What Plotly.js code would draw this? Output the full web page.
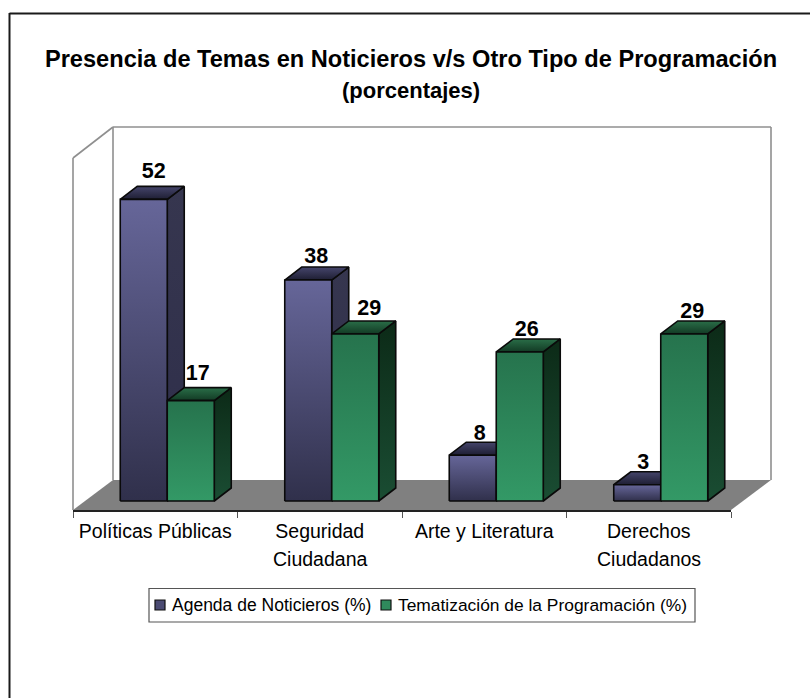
<!DOCTYPE html>
<html>
<head>
<meta charset="utf-8">
<script src="https://cdn.plot.ly/plotly-3.0.1.min.js"></script>
<style>html,body{margin:0;padding:0;background:#fff;overflow:hidden}#chart{width:810px;height:698px}</style>
</head>
<body>
<div id="chart"></div>
<script>
const categoriesLine1 = ['Políticas Públicas', 'Seguridad', 'Arte y Literatura', 'Derechos'];
const categoriesLine2 = ['', 'Ciudadana', '', 'Ciudadanos'];
const seriesNames = ['Agenda de Noticieros (%)', 'Tematización de la Programación (%)'];
const agenda = [52, 38.1, 7.9, 2.8];
const tematizacion = [17.3, 28.8, 25.7, 28.8];
const titleLine1 = 'Presencia de Temas en Noticieros v/s Otro Tipo de Programación';
const titleLine2 = '(porcentajes)';

const W = 810, H = 698;
const plot = {l: 73, t: 158, w: 658, h: 352};
const pxPerCat = plot.w / 4, pxPerUnit = 5.8;
const zeroPx = 501;
const px = p => (p - plot.l) / plot.w;
const py = p => (plot.t + plot.h - p) / plot.h;

const barW = 47 / pxPerCat, depthX = 17 / pxPerCat, depthY = 13 / pxPerUnit, shift = 12 / pxPerCat;
const styles = [
  {front: ['#666699', '#30304b'], side: ['#36364f', '#2e2e4a'], top: ['#45456b', '#1e1e33'], swatch: '#4b4b73', off: shift - barW, nudgeX: [2, 0, -1, -2], nudgeY: [3, -1, -3, -3]},
  {front: ['#26734d', '#339966'], side: ['#0c2a17', '#1a4d33'], top: ['#2a6e48', '#123a24'], swatch: '#2f8a5c', off: shift, nudgeX: [-1, 6, -1, 0], nudgeY: [2, 1, -2, -2]}
];
const outline = {color: '#0a0a0a', width: 1.6};

function face(xs, ys, colors) {
  return {
    type: 'scatter', mode: 'lines', x: xs, y: ys, fill: 'toself',
    fillgradient: {type: 'vertical', colorscale: [[0, colors[1]], [1, colors[0]]]},
    line: outline, showlegend: false, hoverinfo: 'skip'
  };
}

const traces = [];
const allValues = [agenda, tematizacion];
allValues.forEach((vals, s) => {
  traces.push({
    type: 'bar', name: seriesNames[s], x: vals.map((_, i) => i), y: vals, width: barW,
    offset: styles[s].off, marker: {color: styles[s].swatch, line: {width: 0}},
    showlegend: false, hoverinfo: 'name+y'
  });
});
allValues.forEach((vals, s) => {
  vals.forEach((v, i) => {
    const st = styles[s], a = i + st.off, b = a + barW;
    traces.push(face([b, b + depthX, b + depthX, b, b], [0, depthY, v + depthY, v, 0], st.side));
    traces.push(face([a, b, b + depthX, a + depthX, a], [v, v, v + depthY, v + depthY, v], st.top));
    traces.push(face([a, b, b, a, a], [0, 0, v, v, 0], st.front));
  });
});
allValues.forEach((vals, s) => {
  const st = styles[s];
  traces.push({
    type: 'scatter', mode: 'text',
    x: vals.map((_, i) => i + st.off + barW / 2 + (8 + st.nudgeX[i]) / pxPerCat),
    y: vals.map((v, i) => v + depthY + st.nudgeY[i] / pxPerUnit), text: vals.map(v => String(Math.round(v))), textposition: 'top center',
    textfont: {family: 'Liberation Sans, Arial, sans-serif', size: 21.5, color: '#000'},
    texttemplate: '<b>%{text}</b>', showlegend: false, hoverinfo: 'skip', cliponaxis: false
  });
});

const gray = '#8f8f8f';
const line = (x0, y0, x1, y1, color, width) => ({type: 'line', xref: 'paper', yref: 'paper', x0: px(x0), y0: py(y0), x1: px(x1), y1: py(y1), line: {color, width}, layer: 'below'});
const poly = pts => 'M' + pts.map(p => px(p[0]) + ',' + py(p[1])).join('L') + 'Z';

const shapes = [
  line(9.5, 13.5, 810, 13.5, '#1a1a1a', 2),
  line(9.5, 13, 9.5, 698, '#1a1a1a', 2),
  {type: 'path', xref: 'paper', yref: 'paper', layer: 'below', path: poly([[73, 510], [113, 480], [771, 480], [731, 510]]), fillcolor: '#808080', line: {width: 0}},
  line(113, 127, 771, 127, gray, 1.6),
  line(113, 127, 113, 480, gray, 1.6),
  line(771, 127, 771, 480, gray, 1.6),
  line(73, 158, 113, 127, gray, 1.6),
  line(73, 158, 73, 510, gray, 1.6),
  {type: 'rect', xref: 'paper', yref: 'paper', layer: 'above', x0: px(149), x1: px(695), y0: py(588.5), y1: py(622), fillcolor: '#fff', line: {color: '#555', width: 1.2}},
  {type: 'rect', xref: 'paper', yref: 'paper', layer: 'above', x0: px(155), x1: px(165), y0: py(600), y1: py(610), fillcolor: styles[0].swatch, line: {color: '#111', width: 1.2}},
  {type: 'rect', xref: 'paper', yref: 'paper', layer: 'above', x0: px(381), x1: px(391), y0: py(600), y1: py(610), fillcolor: styles[1].swatch, line: {color: '#111', width: 1.2}}
];

const fontFam = 'Liberation Sans, Arial, sans-serif';
const annotations = [
  {xref: 'paper', yref: 'paper', x: px(411), y: py(90), text: '<b>' + titleLine2 + '</b>', showarrow: false, xanchor: 'center', yanchor: 'middle', font: {family: fontFam, size: 22, color: '#000'}},
  {xref: 'paper', yref: 'paper', x: px(172), y: py(605), text: seriesNames[0], showarrow: false, xanchor: 'left', yanchor: 'middle', xshift: -2, font: {family: fontFam, size: 17.5, color: '#000'}},
  {xref: 'paper', yref: 'paper', x: px(398), y: py(605), text: seriesNames[1], showarrow: false, xanchor: 'left', yanchor: 'middle', xshift: -2, font: {family: fontFam, size: 17.4, color: '#000'}}
];
categoriesLine2.forEach((t, i) => {
  if (t) annotations.push({xref: 'x', yref: 'paper', x: i, y: py(559), text: t, showarrow: false, xanchor: 'center', yanchor: 'middle', font: {family: fontFam, size: 19.5, color: '#000'}});
});

const layout = {
  width: W, height: H, autosize: false, showlegend: false,
  margin: {l: plot.l, r: W - plot.l - plot.w, t: plot.t, b: H - plot.t - plot.h, pad: 0},
  paper_bgcolor: '#fff', plot_bgcolor: 'rgba(0,0,0,0)',
  title: {text: '<b>' + titleLine1 + '</b>', x: 411 / W, xanchor: 'center', y: 1 - 59 / H, yanchor: 'middle', font: {family: fontFam, size: 23.6, color: '#000'}},
  xaxis: {
    range: [-0.5, 3.5], tickmode: 'array', tickvals: categoriesLine1.map((_, i) => i), ticktext: categoriesLine1,
    ticks: '', showgrid: false, zeroline: false, showline: true, linecolor: '#222', linewidth: 1.5,
    ticklabelstandoff: 3, tickfont: {family: fontFam, size: 19.5, color: '#000'},
    minor: {tickmode: 'array', tickvals: [-0.5, 0.5, 1.5, 2.5, 3.5], ticks: 'outside', ticklen: 6, tickcolor: '#555', tickwidth: 1, showgrid: false}
  },
  yaxis: {
    range: [(zeroPx - (plot.t + plot.h)) / pxPerUnit, (zeroPx - plot.t) / pxPerUnit],
    visible: false, showgrid: false, zeroline: false
  },
  barmode: 'overlay', shapes, annotations
};
Plotly.newPlot('chart', traces, layout, {displayModeBar: false, staticPlot: true});
</script>
</body>
</html>
